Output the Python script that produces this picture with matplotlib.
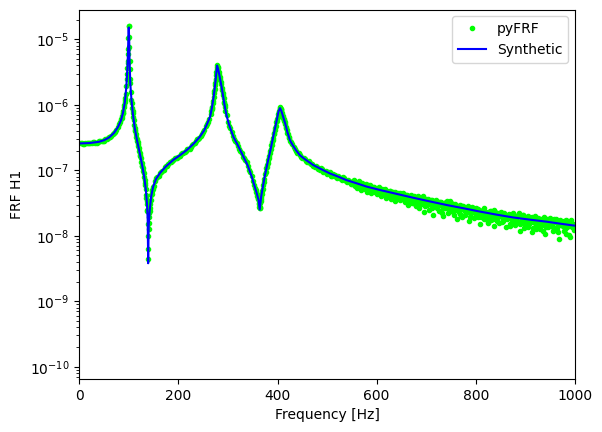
import numpy as np
import matplotlib
matplotlib.use("Agg")
import matplotlib.pyplot as plt

# values, in decades (log10 of FRF H1)

# synthetic FRF, sampled denser around the peaks
synth_freq = [0, 20, 40, 50, 60, 70, 78, 84, 88, 92, 95, 97, 98.5, 99.3, 100, 100.8, 101.5, 103,
              105, 108, 112, 117, 122, 127, 131, 134, 136.5, 138, 139, 140, 142, 145, 149, 155,
              163, 175, 190, 205, 217, 230, 243, 252, 258, 264, 268, 271, 274, 276, 278, 280,
              283, 287, 290, 293, 297, 302, 311, 320, 331, 340, 348, 354, 358, 361.5, 364, 367,
              370, 374, 380, 386, 392, 398, 402, 405, 408, 412, 416, 420, 425, 430, 437, 445,
              455, 472, 490, 506, 520, 539, 560, 580, 606, 640, 674, 707, 741, 775, 808, 840,
              875, 910, 943, 970, 1000]
synth_log = [-6.59, -6.585, -6.565, -6.54, -6.50, -6.43, -6.34, -6.24, -6.13, -5.96, -5.72, -5.45,
             -5.15, -4.85, -4.82, -5.05, -5.35, -5.68, -5.90, -6.13, -6.36, -6.56, -6.74, -6.93,
             -7.10, -7.28, -7.50, -7.75, -8.42, -7.85, -7.62, -7.40, -7.25, -7.13, -7.04, -6.94,
             -6.84, -6.76, -6.69, -6.60, -6.49, -6.39, -6.29, -6.18, -6.03, -5.88, -5.70, -5.55,
             -5.40, -5.45, -5.56, -5.72, -5.86, -6.00, -6.16, -6.30, -6.49, -6.62, -6.79, -6.93,
             -7.10, -7.25, -7.35, -7.45, -7.60, -7.40, -7.27, -7.10, -6.88, -6.68, -6.46, -6.25,
             -6.10, -6.05, -6.10, -6.20, -6.30, -6.42, -6.54, -6.61, -6.69, -6.77, -6.83, -6.92,
             -6.99, -7.05, -7.09, -7.15, -7.20, -7.25, -7.30, -7.36, -7.42, -7.475, -7.53, -7.58,
             -7.63, -7.675, -7.72, -7.755, -7.785, -7.815, -7.846]

# pyFRF estimate on a 5 Hz grid, 0..1000 Hz
grid_freq = np.arange(0, 1001, 5)
grid_log = [
    -6.59, -6.58, -6.60, -6.59, -6.58, -6.59, -6.57, -6.58, -6.56, -6.56,
    -6.55, -6.52, -6.49, -6.48, -6.43, -6.38, -6.30, -6.22, -6.04, -5.71,
    -4.80, -5.92, -6.24, -6.49, -6.66, -6.87, -7.04, -7.38, -7.90, -7.38,
    -7.24, -7.12, -7.08, -7.02, -6.99, -6.93, -6.91, -6.87, -6.85, -6.81,
    -6.79, -6.75, -6.74, -6.70, -6.67, -6.65, -6.60, -6.55, -6.52, -6.47,
    -6.42, -6.33, -6.27, -6.14, -5.94, -5.62, -5.44, -5.65, -5.85, -6.09,
    -6.27, -6.36, -6.48, -6.55, -6.63, -6.70, -6.79, -6.84, -6.94, -7.03,
    -7.16, -7.27, -7.43, -7.56, -7.28, -7.06, -6.89, -6.70, -6.54, -6.35,
    -6.19, -6.04, -6.16, -6.27, -6.43, -6.55, -6.60, -6.68, -6.73, -6.76,
    -6.82, -6.83, -6.87, -6.89, -6.90, -6.95, -6.95, -6.99, -6.98, -7.03,
    -7.05, -7.03, -7.09, -7.07, -7.12, -7.10, -7.15, -7.12, -7.18, -7.16,
    -7.20, -7.17, -7.23, -7.19, -7.26, -7.22, -7.29, -7.24, -7.31, -7.27,
    -7.28, -7.34, -7.29, -7.37, -7.31, -7.38, -7.33, -7.40, -7.34, -7.42,
    -7.36, -7.43, -7.38, -7.47, -7.40, -7.45, -7.41, -7.50, -7.42, -7.48,
    -7.44, -7.52, -7.46, -7.55, -7.47, -7.62, -7.49, -7.57, -7.48, -7.60,
    -7.50, -7.63, -7.54, -7.59, -7.70, -7.55, -7.66, -7.58, -7.64, -7.57,
    -7.68, -7.59, -7.72, -7.61, -7.67, -7.80, -7.62, -7.74, -7.65, -7.71,
    -7.64, -7.78, -7.68, -7.73, -7.85, -7.66, -7.76, -7.70, -7.82, -7.69,
    -7.80, -7.70, -7.77, -7.88, -7.72, -7.83, -7.74, -7.92, -7.76, -7.81,
    -7.73, -7.87, -7.79, -7.95, -7.76, -7.85, -7.90, -7.78, -8.02, -7.82,
    -7.86,
]

# pyFRF on the in-between grid, 2.5..997.5 Hz
half_freq = np.arange(2.5, 1000, 5)
half_log = [
    -6.58, -6.60, -6.59, -6.58, -6.59, -6.57, -6.58, -6.57, -6.55, -6.56,
    -6.53, -6.50, -6.49, -6.44, -6.41, -6.34, -6.27, -6.13, -5.93, -5.33,
    -5.60, -6.09, -6.38, -6.57, -6.77, -6.94, -7.20, -7.60, -7.62, -7.30,
    -7.17, -7.11, -7.04, -7.01, -6.95, -6.93, -6.88, -6.86, -6.82, -6.81,
    -6.78, -6.74, -6.72, -6.68, -6.67, -6.61, -6.59, -6.53, -6.50, -6.44,
    -6.39, -6.29, -6.22, -6.05, -5.79, -5.43, -5.56, -5.74, -5.98, -6.16,
    -6.32, -6.41, -6.52, -6.59, -6.67, -6.73, -6.82, -6.88, -6.99, -7.08,
    -7.22, -7.33, -7.50, -7.41, -7.18, -6.97, -6.81, -6.61, -6.45, -6.26,
    -6.11, -6.08, -6.22, -6.34, -6.49, -6.57, -6.65, -6.70, -6.74, -6.80,
    -6.81, -6.86, -6.86, -6.91, -6.93, -6.93, -6.98, -6.97, -7.02, -7.01,
    -7.02, -7.08, -7.06, -7.11, -7.09, -7.14, -7.11, -7.17, -7.15, -7.21,
    -7.16, -7.22, -7.19, -7.25, -7.21, -7.27, -7.23, -7.30, -7.25, -7.33,
    -7.27, -7.32, -7.35, -7.30, -7.39, -7.32, -7.37, -7.33, -7.41, -7.35,
    -7.42, -7.37, -7.46, -7.39, -7.44, -7.52, -7.40, -7.47, -7.43, -7.54,
    -7.45, -7.50, -7.58, -7.47, -7.53, -7.49, -7.65, -7.51, -7.56, -7.47,
    -7.57, -7.52, -7.61, -7.67, -7.54, -7.62, -7.58, -7.72, -7.56, -7.66,
    -7.60, -7.70, -7.64, -7.58, -7.75, -7.63, -7.69, -7.60, -7.78, -7.66,
    -7.72, -7.65, -7.75, -7.69, -7.68, -7.80, -7.71, -7.66, -7.77, -7.88,
    -7.74, -7.82, -7.71, -7.79, -7.90, -7.75, -7.80, -7.72, -7.86, -7.77,
    -7.82, -7.75, -7.91, -7.80, -7.84, -7.78, -7.97, -7.81, -7.76, -7.88,
]

# pyFRF, quarter grid in the noisy upper band, 551.25..998.75 Hz
upper_freq = np.arange(551.25, 1000, 2.5)
upper_log = [
    -7.21, -7.15, -7.24, -7.19, -7.27, -7.17, -7.22, -7.30, -7.20, -7.25,
    -7.28, -7.21, -7.33, -7.26, -7.23, -7.35, -7.27, -7.25, -7.32, -7.29,
    -7.36, -7.26, -7.31, -7.40, -7.30, -7.34, -7.28, -7.42, -7.33, -7.37,
    -7.31, -7.44, -7.36, -7.33, -7.47, -7.37, -7.40, -7.34, -7.45, -7.39,
    -7.44, -7.35, -7.49, -7.41, -7.38, -7.53, -7.43, -7.37, -7.50, -7.45,
    -7.39, -7.55, -7.46, -7.42, -7.58, -7.44, -7.51, -7.40, -7.63, -7.47,
    -7.53, -7.44, -7.60, -7.49, -7.46, -7.68, -7.52, -7.45, -7.57, -7.50,
    -7.48, -7.62, -7.54, -7.70, -7.50, -7.58, -7.47, -7.66, -7.55, -7.52,
    -7.60, -7.51, -7.68, -7.57, -7.74, -7.55, -7.63, -7.53, -7.71, -7.59,
    -7.56, -7.69, -7.62, -7.55, -7.77, -7.60, -7.66, -7.58, -7.73, -7.64,
    -7.58, -7.71, -7.66, -7.82, -7.62, -7.60, -7.75, -7.68, -7.63, -7.79,
    -7.70, -7.62, -7.76, -7.67, -7.85, -7.64, -7.72, -7.66, -7.80, -7.69,
    -7.66, -7.79, -7.71, -7.68, -7.87, -7.73, -7.67, -7.82, -7.70, -7.76,
    -7.69, -7.84, -7.75, -7.70, -7.79, -7.92, -7.72, -7.77, -7.68, -7.85,
    -7.78, -7.71, -7.86, -7.76, -7.73, -7.95, -7.79, -7.70, -7.83, -7.77,
    -7.73, -7.89, -7.80, -7.75, -7.84, -7.98, -7.78, -7.74, -7.87, -7.81,
    -7.76, -7.85, -7.92, -7.79, -7.74, -7.88, -7.82, -8.05, -7.78, -7.84,
    -7.80, -7.93, -7.76, -7.86, -7.83, -7.99, -7.79, -7.87, -7.82, -7.91,
]

# extra pyFRF points on the steep flanks of the peaks and dips
flank_freq = [86, 87, 88, 89, 91, 92, 93, 94, 96, 96.5, 97, 97.5, 98, 98.5, 99, 99.5,
              100.5, 101, 101.5, 102, 103, 104, 106, 107, 108, 109, 111, 112, 113, 114, 116,
              117, 118, 119, 121, 122, 123, 124, 126, 127, 128, 129, 131, 132, 133, 134, 135.5,
              136, 136.5, 137, 138, 138.5, 139, 139.5, 140.5, 141, 141.5, 142, 143, 144, 146,
              147, 148, 149,
              266, 267, 268, 269, 271, 272, 273, 274, 274.5, 275.5, 276, 276.5, 277, 278, 279,
              281, 282, 283, 284, 286, 288, 289, 291, 292, 293, 294,
              356, 358, 359, 361, 362, 363, 363.5, 364, 364.5, 365.5, 366, 366.5, 368, 369, 371,
              373, 376, 378, 379, 381, 383, 384, 386, 388, 389, 391, 393, 394, 396, 398, 399,
              401, 403, 404, 405.5, 406, 407, 408, 409, 411, 412, 413, 414, 416, 418, 419, 421,
              423]
flank_log = [-6.20, -6.17, -6.13, -6.09, -6.00, -5.96, -5.90, -5.83, -5.60, -5.53, -5.44, -5.36,
             -5.22, -5.15, -4.98, -4.79,
             -4.97, -5.12, -5.33, -5.45, -5.66, -5.80, -5.97, -6.05, -6.13, -6.19, -6.31, -6.36,
             -6.40, -6.44, -6.52, -6.56, -6.60, -6.63, -6.70, -6.74, -6.78, -6.82, -6.89, -6.93,
             -6.97, -7.01, -7.10, -7.15, -7.22, -7.28, -7.42, -7.47, -7.51, -7.62, -7.82, -8.00,
             -8.35, -8.20, -7.80, -7.72, -7.65, -7.58, -7.52, -7.45, -7.36, -7.32, -7.28, -7.25,
             -6.10, -6.07, -6.03, -5.98, -5.88, -5.82, -5.76, -5.70, -5.66, -5.60, -5.55, -5.50,
             -5.45, -5.39, -5.42, -5.50, -5.53, -5.57, -5.60, -5.68, -5.77, -5.82, -5.90, -5.95,
             -6.00, -6.04,
             -7.30, -7.36, -7.39, -7.44, -7.46, -7.52, -7.56, -7.58, -7.57, -7.50, -7.47, -7.44,
             -7.36, -7.31, -7.23, -7.14, -7.03, -6.95, -6.92, -6.84, -6.78, -6.74, -6.68, -6.61,
             -6.57, -6.50, -6.43, -6.39, -6.32, -6.25, -6.22, -6.14, -6.09, -6.06, -6.05, -6.06,
             -6.07, -6.10, -6.12, -6.17, -6.20, -6.23, -6.25, -6.30, -6.36, -6.39, -6.45, -6.50]


fig, ax = plt.subplots(figsize=(6.02, 4.32), dpi=100)
fig.subplots_adjust(left=0.1317, right=0.955, bottom=0.1227, top=0.978)

f_all = np.concatenate([grid_freq, half_freq, upper_freq, flank_freq])
h_all = 10.0 ** np.concatenate([grid_log, half_log, upper_log, flank_log])
order = np.argsort(f_all)
ax.semilogy(f_all[order], h_all[order], ".", color="lime", label="pyFRF")
ax.semilogy(synth_freq, 10.0 ** np.array(synth_log), "-", color="b", label="Synthetic")

ax.set_xlim(0, 1000)
ax.set_ylim(6.5e-11, 2.85e-5)
ax.set_xlabel("Frequency [Hz]")
ax.set_ylabel("FRF H1")
ax.legend(loc="upper right")

fig.savefig("out.png", dpi=100)
